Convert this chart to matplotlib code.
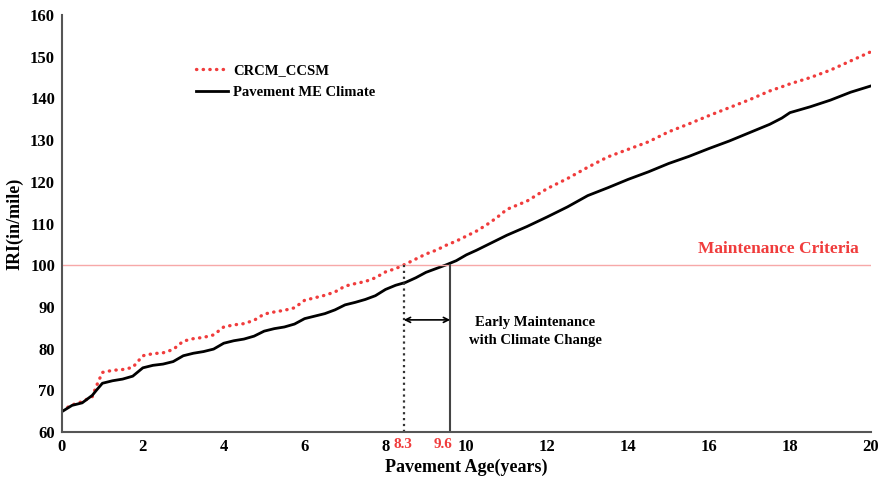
import matplotlib.pyplot as plt
import numpy as np

plt.rcParams['font.family'] = ['Liberation Serif', 'DejaVu Serif']
plt.rcParams['font.weight'] = 'bold'

# Data
age = [0.0, 0.25, 0.5, 0.75, 0.85, 1.0, 1.25, 1.5, 1.75, 2.0, 2.25, 2.5, 2.75,
       3.0, 3.25, 3.5, 3.75, 4.0, 4.25, 4.5, 4.75, 5.0, 5.25, 5.5, 5.75,
       6.0, 6.25, 6.5, 6.75, 7.0, 7.25, 7.5, 7.75, 8.0, 8.25, 8.5, 8.75,
       9.0, 9.25, 9.5, 9.75, 10.0, 10.25, 10.5, 10.75, 11.0, 11.5, 12.0,
       12.5, 13.0, 13.5, 14.0, 14.5, 15.0, 15.5, 16.0, 16.5, 17.0, 17.5,
       17.8, 18.0, 18.5, 19.0, 19.5, 20.0]
iri_crcm = [65.2, 66.5, 67.3, 68.5, 71.0, 74.3, 74.8, 75.0, 75.5, 78.3, 78.8, 79.0, 79.8,
            81.8, 82.4, 82.7, 83.3, 85.2, 85.7, 86.0, 86.8, 88.3, 88.8, 89.2, 89.8,
            91.6, 92.2, 92.8, 93.6, 95.0, 95.6, 96.1, 97.0, 98.4, 99.2, 100.3, 101.5,
            102.7, 103.6, 104.8, 105.8, 107.0, 108.2, 109.7, 111.4, 113.4, 115.4, 118.4,
            120.8, 123.5, 126.0, 127.8, 129.6, 132.0, 133.9, 135.9, 137.8, 139.7, 141.8,
            142.8, 143.5, 145.0, 146.8, 149.0, 151.2]
iri_pme = [64.9, 66.4, 67.0, 68.8, 70.0, 71.7, 72.3, 72.7, 73.4, 75.4, 76.0, 76.3, 76.9,
           78.3, 78.9, 79.3, 79.9, 81.3, 81.9, 82.3, 83.0, 84.2, 84.8, 85.2, 85.9,
           87.2, 87.8, 88.4, 89.3, 90.5, 91.1, 91.8, 92.7, 94.2, 95.2, 95.9, 97.0,
           98.3, 99.2, 100.1, 101.1, 102.5, 103.6, 104.8, 106.0, 107.2, 109.3, 111.6,
           114.0, 116.7, 118.6, 120.6, 122.4, 124.4, 126.1, 128.0, 129.8, 131.8, 133.8,
           135.3, 136.6, 138.0, 139.6, 141.5, 143.0]

criteria = 100
cross_x = [8.45, 9.6]
cross_labels = ['8.3', '9.6']

red = '#f03c3c'

fig = plt.figure(figsize=(8.85, 4.86), dpi=100)
ax = fig.add_axes([0.070, 0.111, 0.914, 0.858])

ax.plot(age, iri_crcm, color=red, linestyle=(0, (0.1, 1.9)), linewidth=2.4,
        dash_capstyle='round', label='CRCM_CCSM')
ax.plot(age, iri_pme, color='black', linewidth=2, label='Pavement ME Climate')

# maintenance criteria line
ax.axhline(criteria, color='#f7a8a8', linewidth=1)
ax.text(19.7, criteria + 4, 'Maintenance Criteria', color=red, fontsize=12.5,
        fontweight='bold', ha='right', va='center')

# vertical markers
ax.plot([cross_x[0], cross_x[0]], [60, criteria], color='#333333', linestyle=':', linewidth=1.6)
ax.plot([cross_x[1], cross_x[1]], [60, criteria], color='#444444', linewidth=1.5)
ax.annotate('', xy=(cross_x[0], 86.9), xytext=(cross_x[1], 86.9),
            arrowprops=dict(arrowstyle='<->', color='black', lw=1.2,
                            shrinkA=0, shrinkB=0, mutation_scale=9))
ax.text(11.7, 84.1, 'Early Maintenance\nwith Climate Change', fontsize=10.5,
        fontweight='bold', ha='center', va='center', linespacing=1.45)
label_shift = [-0.02, -0.17]
for xv, dx, lab in zip(cross_x, label_shift, cross_labels):
    ax.text(xv + dx, 58.6, lab, color=red, fontsize=11, fontweight='bold',
            ha='center', va='top')

ax.set_xlim(0, 20)
ax.set_ylim(60, 160)
ax.set_xticks(np.arange(0, 21, 2))
ax.set_yticks(np.arange(60, 161, 10))
ax.tick_params(length=0, labelsize=12, pad=5)
for lab in ax.get_xticklabels() + ax.get_yticklabels():
    lab.set_fontweight('bold')
ax.spines['top'].set_visible(False)
ax.spines['right'].set_visible(False)
ax.spines['left'].set_color('#555555')
ax.spines['bottom'].set_color('#555555')
ax.spines['left'].set_linewidth(1.5)
ax.spines['bottom'].set_linewidth(1.5)

ax.set_xlabel('Pavement Age(years)', fontsize=13, fontweight='bold', labelpad=3)
ax.set_ylabel('IRI(in/mile)', fontsize=13, fontweight='bold', labelpad=5)

ax.legend(loc='upper left', bbox_to_anchor=(0.15, 0.915), frameon=False,
          handlelength=2.2, handletextpad=0.3, labelspacing=0.6,
          prop={'weight': 'bold', 'size': 10.5})

plt.savefig('out.png', dpi=100)
